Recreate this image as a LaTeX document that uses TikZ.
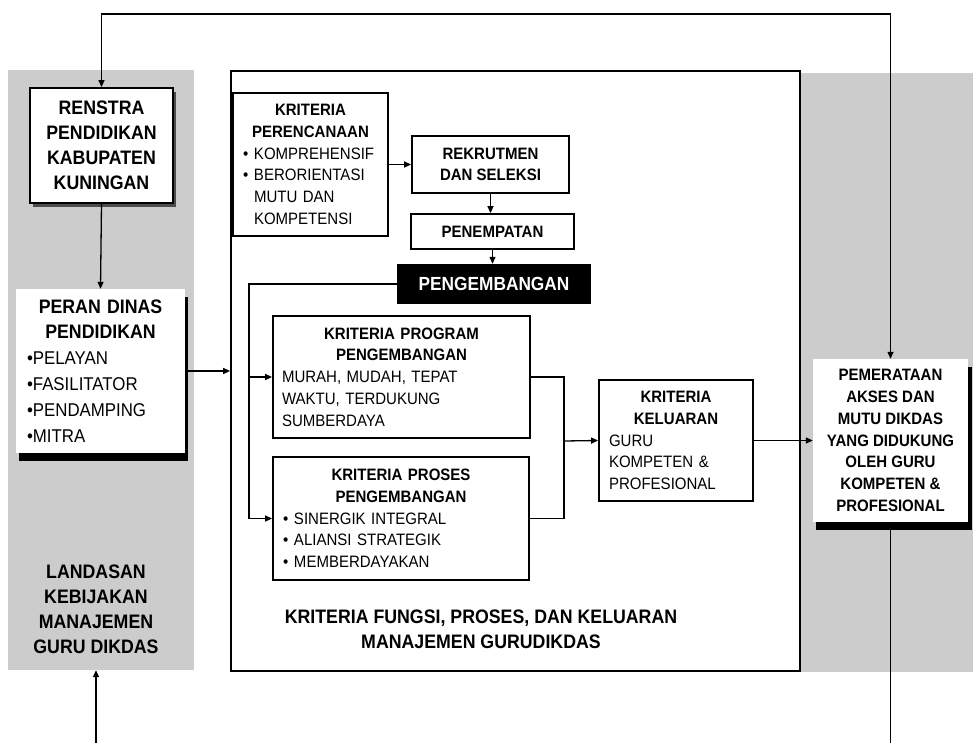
\documentclass[tikz,border=0pt]{standalone}
\usepackage{fontspec}
\setmainfont{Liberation Sans}[FakeStretch=0.91]
\usetikzlibrary{arrows.meta,shadows}
\definecolor{panelgray}{RGB}{204,204,204}
\newcommand{\smallfont}{\fontsize{16.5pt}{21.7pt}\selectfont}
\newcommand{\bigfont}{\fontsize{19.5pt}{25pt}\selectfont}
\newcommand{\itemfont}{\fontsize{18.5pt}{26pt}\selectfont}
\newcommand{\bul}{\makebox[11pt][l]{•}}
\newcommand{\ind}{\hspace*{11pt}}

\begin{document}
\begin{tikzpicture}[
	x=1pt, y=-1pt,
	>={Triangle[length=7pt,width=6pt]},
	panel/.style={rectangle, fill=panelgray, inner sep=0pt},
	plainbox/.style={rectangle, draw, line width=1.8pt, fill=white, font=\smallfont, inner sep=0pt},
	greyshadowbox/.style={plainbox, drop shadow={shadow xshift=3pt, shadow yshift=-4pt, fill=black!70, opacity=1}},
	blackshadowbox/.style={rectangle, fill=white, inner sep=0pt, drop shadow={shadow xshift=3pt, shadow yshift=-8pt, fill=black, opacity=1}},
	blackbox/.style={rectangle, fill=black, text=white, font=\fontsize{19pt}{23pt}\selectfont\bfseries, inner sep=0pt},
	link/.style={line width=1.3pt},
	]
	\useasboundingbox (0,0) rectangle (973,743);
	
	%Panels
	\node[panel, minimum width=186, minimum height=600]	(leftpanel)	at (101,370)	{};
	\node[panel, minimum width=175, minimum height=599]	(rightpanel)	at (888.5,372.5)	{};
	\node[rectangle, draw, line width=1.8pt, fill=white, minimum width=569, minimum height=600]	(mainbox)	at (515.5,371)	{};
	
	%Nodes
	\node[greyshadowbox, font=\bigfont\bfseries, align=center, minimum width=143, minimum height=115]	(renstra)	at (101.5,145.5)	{RENSTRA\\PENDIDIKAN\\KABUPATEN\\KUNINGAN};
	\node[blackshadowbox, font=\itemfont, text width=147pt, inner xsep=11pt, minimum height=164]	(peran)	at (100.5,371)
		{{\centering\bigfont\bfseries PERAN DINAS\\PENDIDIKAN\par}\raggedright •PELAYAN\\•FASILITATOR\\•PENDAMPING\\•MITRA\par};
	\node[font=\bigfont\bfseries, align=center]	(landasan)	at (96,609.5)	{LANDASAN\\KEBIJAKAN\\MANAJEMEN\\GURU DIKDAS};
	
	\node[plainbox, text width=135pt, inner xsep=10pt, minimum height=143]	(plan)	at (310.5,164.5)
		{{\centering\bfseries KRITERIA\\PERENCANAAN\par}\raggedright \bul KOMPREHENSIF\\\bul BERORIENTASI\\\ind MUTU DAN\\\ind KOMPETENSI\par};
	\node[plainbox, font=\smallfont\bfseries, align=center, minimum width=157, minimum height=57]	(rekrut)	at (490.5,164.5)	{REKRUTMEN\\DAN SELEKSI};
	\node[plainbox, font=\smallfont\bfseries, minimum width=163, minimum height=35]	(tempat)	at (492.5,231.5)	{PENEMPATAN};
	\node[blackbox, minimum width=194, minimum height=40]	(kembang)	at (494,284)	{PENGEMBANGAN};
	\node[plainbox, text width=239pt, inner xsep=9pt, minimum height=122]	(program)	at (401.5,377)
		{{\centering\bfseries KRITERIA PROGRAM\\PENGEMBANGAN\par}\raggedright MURAH, MUDAH, TEPAT\\WAKTU, TERDUKUNG\\SUMBERDAYA\par};
	\node[plainbox, text width=236pt, inner xsep=10pt, minimum height=123]	(proses)	at (401,518.5)
		{{\centering\bfseries KRITERIA PROSES\\PENGEMBANGAN\par}\raggedright \bul SINERGIK INTEGRAL\\\bul ALIANSI STRATEGIK\\\bul MEMBERDAYAKAN\par};
	\node[plainbox, text width=134pt, inner xsep=10pt, minimum height=121]	(keluaran)	at (676,440.5)
		{{\centering\bfseries KRITERIA\\KELUARAN\par}\raggedright GURU\\KOMPETEN \&\\PROFESIONAL\par};
	\node[font=\bigfont\bfseries, align=center]	(fungsi)	at (481,629.5)	{KRITERIA FUNGSI, PROSES, DAN KELUARAN\\MANAJEMEN GURUDIKDAS};
	\node[blackshadowbox, drop shadow={shadow xshift=4pt, shadow yshift=-8pt, fill=black, opacity=1}, font=\smallfont\bfseries, align=center, minimum width=155, minimum height=163]	(merata)	at (890.5,440.5)
		{PEMERATAAN\\AKSES DAN\\MUTU DIKDAS\\YANG DIDUKUNG\\OLEH GURU\\KOMPETEN \&\\PROFESIONAL};
	
	\coordinate (roof)	at (0,14);
	\coordinate (floor)	at (96,743);
	\coordinate (bus)	at (249,284);
	\coordinate (join)	at (564,441);
	
	%Lines
	\draw[link,<->] (renstra.north) |- (roof -| merata.north) -- (merata.north);
	\draw[link,->] (renstra.south) -- (peran.north);
	\draw[link,->] (peran.east) -- (peran.east -| mainbox.west);
	\draw[link,->] (floor) -- (floor |- leftpanel.south);
	\draw[link] (merata.south) -- (merata.south |- floor);
	\draw[link,->] (plan.east) -- (rekrut.west);
	\draw[link,->] (rekrut.south) -- (rekrut.south |- tempat.north);
	\draw[link,->] (tempat.south) -- (tempat.south |- kembang.north);
	\draw[link] (kembang.west) -- (bus) -- (bus |- proses.west);
	\draw[link,->] (bus |- program.west) -- (program.west);
	\draw[link,->] (bus |- proses.west) -- (proses.west);
	\draw[link] (program.east) -| (join) |- (proses.east);
	\draw[link,->] (join) -- (keluaran.west);
	\draw[link,->] (keluaran.east) -- (merata.west);
	
\end{tikzpicture}
\end{document}
